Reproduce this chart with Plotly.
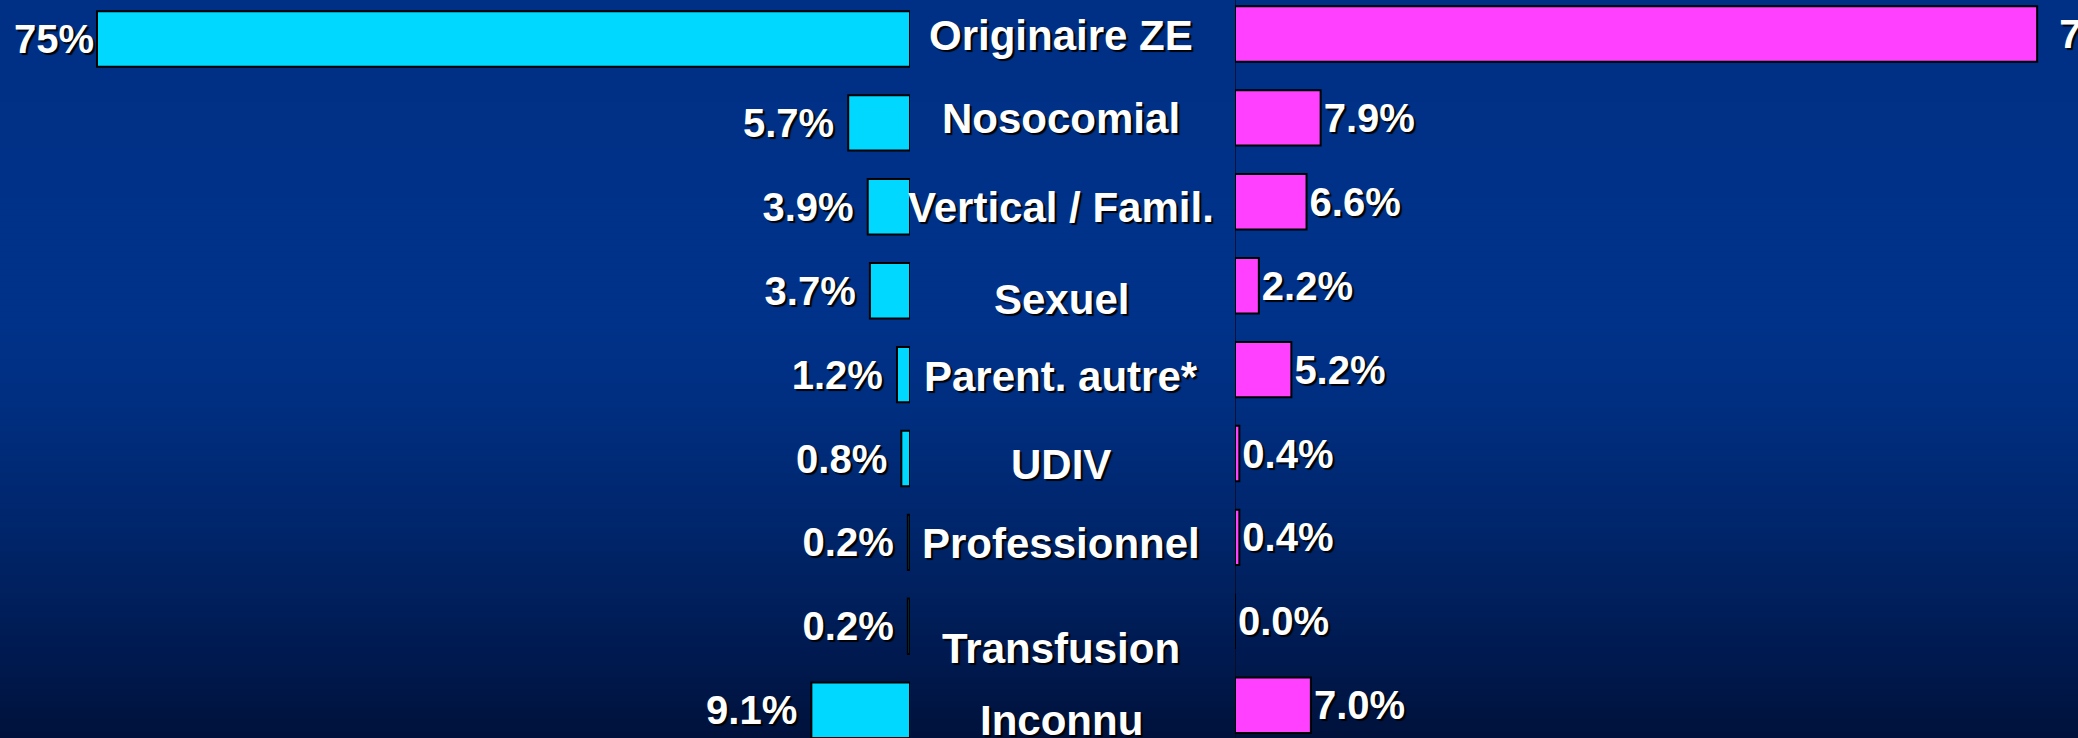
import plotly.graph_objects as go

# ---------------- data ----------------
categories = ["Originaire ZE", "Nosocomial", "Vertical / Famil.", "Sexuel",
              "Parent. autre*", "UDIV", "Professionnel", "Transfusion", "Inconnu"]
left_values = [75, 5.7, 3.9, 3.7, 1.2, 0.8, 0.2, 0.2, 9.1]
right_values = [74, 7.9, 6.6, 2.2, 5.2, 0.4, 0.4, 0.0, 7.0]
left_labels = ["75%", "5.7%\u00a0", "3.9%\u00a0", "3.7%\u00a0", "1.2%\u00a0",
               "0.8%\u00a0", "0.2%\u00a0", "0.2%\u00a0", "9.1%\u00a0"]
right_labels = ["\u00a0\u200974%", "7.9%", "6.6%", "2.2%", "5.2%", "0.4%", "0.4%", "0.0%", "7.0%"]

# ---------------- style / layout ----------------
W, H = 2078, 738
PX_PER_PCT = 10.84
LEFT_BASE = 910
RIGHT_BASE = 1235
ROW = 83.9
label_offsets = [-0.04, -0.05, 0.01, 0.11, 0.02, 0.07, 0.01, 0.26, 0.12]

FONT = "Liberation Sans, Arial, Helvetica, sans-serif"
SHADOW = "2px 2px 1px rgba(0,0,0,0.95)"
CYAN = "#00D8FF"
MAGENTA = "#FF40FF"

fig = go.Figure()

fig.add_trace(go.Bar(
    x=left_values, y=categories, orientation="h",
    xaxis="x", yaxis="y", width=0.66,
    marker=dict(color=CYAN, line=dict(color="#000000", width=2)),
    text=left_labels, textposition="outside", cliponaxis=False,
    constraintext="none",
    textfont=dict(family=FONT, size=40, color="white", weight="bold", shadow=SHADOW),
    hoverinfo="skip", showlegend=False,
))
fig.add_trace(go.Bar(
    x=right_values, y=categories, orientation="h",
    xaxis="x2", yaxis="y2", width=0.66,
    marker=dict(color=MAGENTA, line=dict(color="#000000", width=2)),
    text=right_labels, textposition="outside", cliponaxis=False,
    constraintext="none",
    textfont=dict(family=FONT, size=40, color="white", weight="bold", shadow=SHADOW),
    hoverinfo="skip", showlegend=False,
))

# category labels in the middle
for i, (cat, off) in enumerate(zip(categories, label_offsets)):
    fig.add_annotation(
        x=1061 / W, xref="paper", y=i + off, yref="y",
        text=cat, showarrow=False, xanchor="center", yanchor="middle",
        font=dict(family=FONT, size=42, color="white", weight="bold", shadow=SHADOW),
    )

# background gradient
shapes = []
N = 123
for k in range(N):
    y0 = k * H / N
    y1 = (k + 1) * H / N
    yc = (y0 + y1) / 2
    if yc < 300:
        t = yc / 300
        g = 48 + 3 * t
        b = 133 + 6 * t
    else:
        s = ((yc - 300) / (H - 300)) ** 1.4
        g = 51 - 33 * s
        b = 139 - 79 * s
    shapes.append(dict(
        type="rect", xref="paper", yref="paper", layer="below",
        x0=0, x1=1, y0=1 - y1 / H - 0.0005, y1=1 - y0 / H + 0.0005,
        fillcolor=f"rgb(0,{int(g)},{int(b)})", line=dict(width=0),
    ))
# vertical base line on the right panel
shapes.append(dict(type="line", xref="x2", yref="paper", x0=0, x1=0, y0=0, y1=1,
                   layer="below", line=dict(color="#0a0a20", width=1.5)))

top_l = -39 / ROW
top_r = -34 / ROW
span = H / ROW

fig.update_layout(
    width=W, height=H, autosize=False,
    margin=dict(l=0, r=0, t=0, b=0, pad=0),
    paper_bgcolor="#003088", plot_bgcolor="rgba(0,0,0,0)",
    shapes=shapes, bargap=0.3,
    xaxis=dict(domain=[0, LEFT_BASE / W], range=[LEFT_BASE / PX_PER_PCT, 0],
               visible=False, fixedrange=True),
    xaxis2=dict(domain=[RIGHT_BASE / W, 1], range=[0, (W - RIGHT_BASE) / PX_PER_PCT],
                visible=False, anchor="y2", fixedrange=True),
    yaxis=dict(domain=[0, 1], type="category", categoryorder="array",
               categoryarray=categories, range=[top_l + span, top_l],
               visible=False, anchor="x", fixedrange=True),
    yaxis2=dict(domain=[0, 1], type="category", categoryorder="array",
                categoryarray=categories, range=[top_r + span, top_r],
                visible=False, anchor="x2", fixedrange=True),
)

fig.write_html("out.html", config={"displayModeBar": False},
               post_script="document.body.style.margin='0';document.body.style.overflow='hidden';")
